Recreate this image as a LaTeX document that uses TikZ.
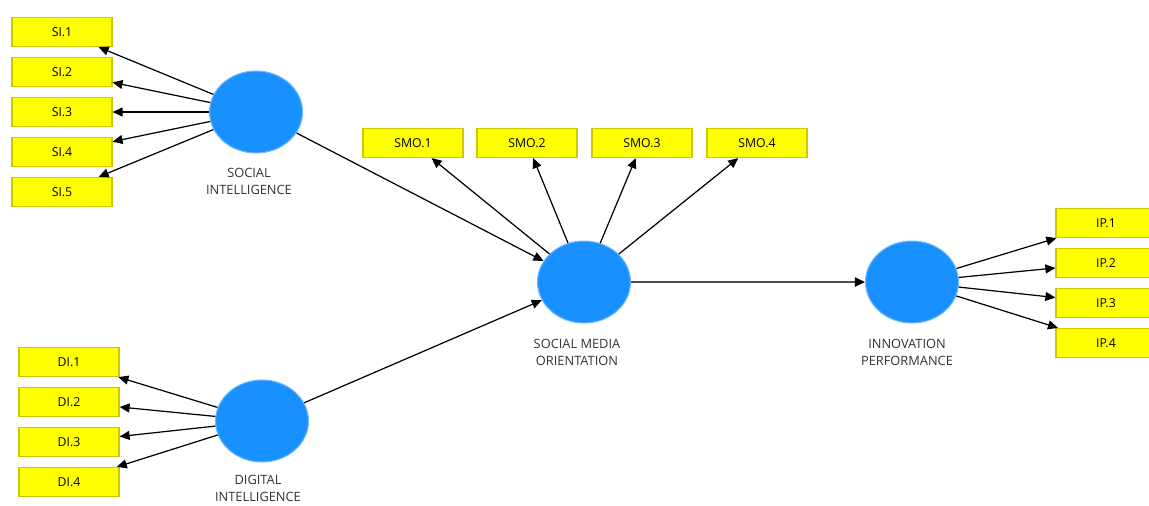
\documentclass[tikz,border=0pt]{standalone}
\usepackage{fontspec}
\setsansfont{Open Sans}
\usetikzlibrary{arrows.meta,shapes.geometric}
\definecolor{itemyellow}{HTML}{FFFF00}
\definecolor{itemedge}{HTML}{CFC800}
\definecolor{lvblue}{HTML}{1890FF}
\definecolor{lvedge}{HTML}{70B8FF}

\begin{document}
\begin{tikzpicture}[x=0.02cm, y=-0.02cm,
    /tikz/font=\sffamily\fontsize{7}{9}\selectfont,
    itembox/.style={draw=itemedge, line width=0.7pt, fill=itemyellow, minimum width=2cm, minimum height=0.58cm, inner sep=0pt},
    latent/.style={ellipse, draw=lvedge, line width=0.6pt, fill=lvblue, minimum width=1.86cm, minimum height=1.64cm, inner sep=0pt},
    lvlabel/.style={align=center, text=black!80, font=\sffamily\fontsize{7.3}{9.6}\selectfont},
    loadarr/.style={-{Triangle[length=2mm,width=1.8mm,color=black]}, line width=0.7pt},
  ]
  \useasboundingbox (0,0) rectangle (1149,505);

  % latent variables
  \node[latent] (si) at (256,112) {};
  \node[latent] (di) at (262,421) {};
  \node[latent] (smo) at (584,282) {};
  \node[latent] (ip) at (912,282) {};
  \node[lvlabel] (silab) at (249,181) {SOCIAL\\INTELLIGENCE};
  \node[lvlabel] (dilab) at (258,488) {DIGITAL\\INTELLIGENCE};
  \node[lvlabel] (smolab) at (577,352) {SOCIAL MEDIA\\ORIENTATION};
  \node[lvlabel] (iplab) at (907,352) {INNOVATION\\PERFORMANCE};

  % indicators
  \foreach \i/\y in {1/32,2/72,3/112,4/152,5/192}
    \node[itembox] (si\i) at (62,\y) {SI.\i};
  \foreach \i/\y in {1/362,2/402,3/442,4/482}
    \node[itembox] (di\i) at (69,\y) {DI.\i};
  \foreach \i/\x in {1/413,2/527,3/642,4/757}
    \node[itembox] (smo\i) at (\x,143) {SMO.\i};
  \foreach \i/\y in {1/223,2/263,3/303,4/343}
    \node[itembox] (ip\i) at (1106,\y) {IP.\i};

  % outer loadings
  \foreach \i in {1,...,5} \draw[loadarr] (si) -- (si\i);
  \foreach \i in {1,...,4} {
    \draw[loadarr] (di) -- (di\i);
    \draw[loadarr] (smo) -- (smo\i);
    \draw[loadarr] (ip) -- (ip\i);
  }

  % structural paths
  \draw[loadarr] (si) -- (smo);
  \draw[loadarr] (di) -- (smo);
  \draw[loadarr, draw=black!70, line width=1pt] (smo) -- (ip);
\end{tikzpicture}
\end{document}
